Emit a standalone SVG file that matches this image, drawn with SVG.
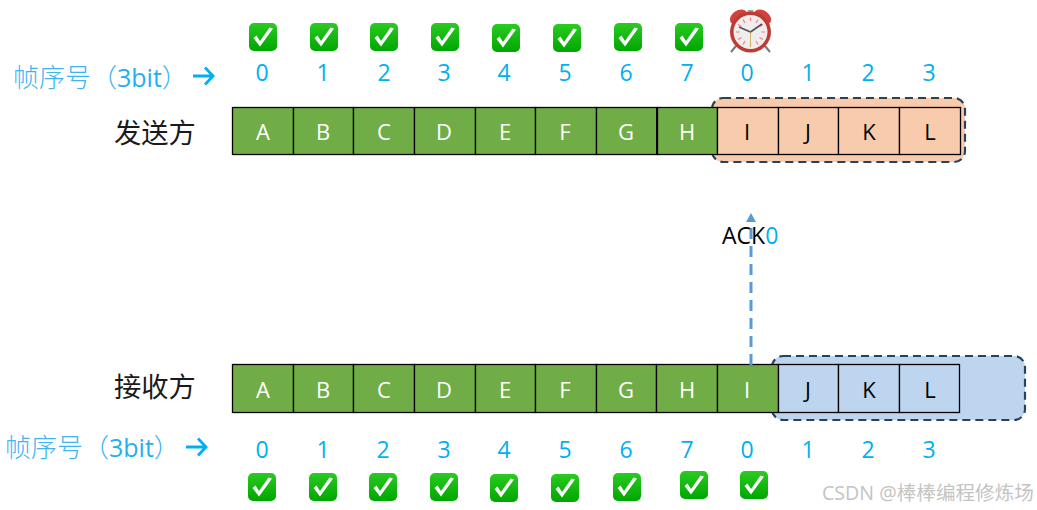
<svg xmlns="http://www.w3.org/2000/svg" width="1037" height="510" viewBox="0 0 1037 510">
<style>
text{font-family:"Open Sans","Noto Sans CJK SC",sans-serif}
.cell{stroke:#000;stroke-width:1.3}
.g{fill:#70AD47}
.o{fill:#F8CBAD}
.b{fill:#BDD5EE}
.w{fill:#fff;font-size:22px;text-anchor:middle}
.k{fill:#000;font-size:22px;text-anchor:middle}
.n{fill:#00B0F0;font-size:23px;text-anchor:middle}
.lab{fill:#1a1a1a;font-family:"Noto Sans CJK SC",sans-serif;font-size:27.300px}
.seq{fill:#3FB4F2;font-family:"Noto Sans CJK SC",sans-serif;font-size:26px;font-weight:300}
.bit{font-family:"Open Sans",sans-serif;font-size:25px;font-weight:400;fill:#22AEF2}
.win{stroke:#2A4258;stroke-width:2.200;stroke-dasharray:8 5}
</style>
<defs>
<linearGradient id="cg" x1="0" y1="0" x2="0" y2="1"><stop offset="0" stop-color="#2ACB22"/><stop offset="1" stop-color="#00A600"/></linearGradient>
<symbol id="chk" overflow="visible">
<rect x="0" y="0" width="28" height="28" rx="5" fill="url(#cg)"/>
<path d="M4.500 15L11 23.500L24 5.500L20.500 4.500L11 18L7.500 12.500Z" fill="#fff"/>
</symbol>
<g id="arr"><path d="M0 0H20M12 -8.500L20 0L12 8.500" fill="none" stroke="#00B0F0" stroke-width="2.800"/></g>
</defs>

<g id="window-send"><rect class="win o" x="712" y="98" width="253" height="64" rx="11"/></g>
<g id="window-recv"><rect class="win b" x="772" y="356" width="253" height="64" rx="11"/></g>

<g id="sender-row">
<rect class="cell g" x="232.500" y="107.500" width="61" height="47"/><text class="w" x="263" y="140">A</text>
<rect class="cell g" x="293.500" y="107.500" width="60" height="47"/><text class="w" x="323" y="140">B</text>
<rect class="cell g" x="353.500" y="107.500" width="61" height="47"/><text class="w" x="384" y="140">C</text>
<rect class="cell g" x="414.500" y="107.500" width="61" height="47"/><text class="w" x="444" y="140">D</text>
<rect class="cell g" x="475.500" y="107.500" width="60" height="47"/><text class="w" x="505" y="140">E</text>
<rect class="cell g" x="535.500" y="107.500" width="61" height="47"/><text class="w" x="565" y="140">F</text>
<rect class="cell g" x="596.500" y="107.500" width="61" height="47"/><text class="w" x="626" y="140">G</text>
<rect class="cell g" x="657.500" y="107.500" width="60" height="47" style="stroke-width:1.300"/><text class="w" x="687" y="140">H</text>
<path d="M657 107V155" stroke="#000" stroke-width="2" fill="none"/>
<rect class="cell o" x="717.500" y="107.500" width="61" height="47"/><text class="k" x="747" y="140">I</text>
<rect class="cell o" x="778.500" y="107.500" width="60" height="47"/><text class="k" x="808" y="140">J</text>
<rect class="cell o" x="838.500" y="107.500" width="61" height="47"/><text class="k" x="869" y="140">K</text>
<rect class="cell o" x="899.500" y="107.500" width="61" height="47"/><text class="k" x="930" y="140">L</text>
</g>

<g id="receiver-row">
<rect class="cell g" x="232.500" y="364.500" width="61" height="48"/><text class="w" x="263" y="398">A</text>
<rect class="cell g" x="293.500" y="364.500" width="60" height="48"/><text class="w" x="323" y="398">B</text>
<rect class="cell g" x="353.500" y="364.500" width="61" height="48"/><text class="w" x="384" y="398">C</text>
<rect class="cell g" x="414.500" y="364.500" width="61" height="48"/><text class="w" x="444" y="398">D</text>
<rect class="cell g" x="475.500" y="364.500" width="60" height="48"/><text class="w" x="505" y="398">E</text>
<rect class="cell g" x="535.500" y="364.500" width="61" height="48"/><text class="w" x="565" y="398">F</text>
<rect class="cell g" x="596.500" y="364.500" width="60" height="48"/><text class="w" x="626" y="398">G</text>
<rect class="cell g" x="656.500" y="364.500" width="61" height="48"/><text class="w" x="687" y="398">H</text>
<rect class="cell g" x="717.500" y="364.500" width="61" height="48"/><text class="w" x="747" y="398">I</text>
<rect class="cell b" x="778.500" y="364.500" width="60" height="48"/><text class="k" x="808" y="398">J</text>
<rect class="cell b" x="838.500" y="364.500" width="61" height="48"/><text class="k" x="869" y="398">K</text>
<rect class="cell b" x="899.500" y="364.500" width="60" height="48"/><text class="k" x="930" y="398">L</text>
</g>

<g id="connectors">
<path d="M751 365V222" fill="none" stroke="#5B9BD5" stroke-width="3" stroke-dasharray="11 7"/>
<path d="M751 213L756 222H746Z" fill="#5B9BD5"/>
</g>

<g id="labels">
<text class="lab" x="114" y="143">发送方</text>
<text class="lab" x="114" y="397">接收方</text>
<text class="seq" x="13" y="87">帧序号（<tspan class="bit">3bit</tspan>）</text>
<use href="#arr" x="193" y="76"/>
<text class="seq" x="5" y="457">帧序号（<tspan class="bit">3bit</tspan>）</text>
<use href="#arr" x="186" y="447"/>
<text x="722" y="244" font-size="23" fill="#000">ACK<tspan fill="#00B0F0">0</tspan></text>
<text x="822" y="500" font-size="19.600" fill="#C4C4C4" font-family="'Noto Sans','Noto Sans CJK SC',sans-serif">CSDN @棒棒编程修炼场</text>
</g>

<g id="seq-top">
<text class="n" x="262" y="81">0</text><text class="n" x="323" y="81">1</text><text class="n" x="384" y="81">2</text><text class="n" x="444" y="81">3</text><text class="n" x="504" y="81">4</text><text class="n" x="565" y="81">5</text><text class="n" x="626" y="81">6</text><text class="n" x="687" y="81">7</text><text class="n" x="747" y="81">0</text><text class="n" x="808" y="81">1</text><text class="n" x="868" y="81">2</text><text class="n" x="929" y="81">3</text>
</g>
<g id="seq-bottom">
<text class="n" x="262" y="458">0</text><text class="n" x="323" y="458">1</text><text class="n" x="383" y="458">2</text><text class="n" x="444" y="458">3</text><text class="n" x="504" y="458">4</text><text class="n" x="565" y="458">5</text><text class="n" x="626" y="458">6</text><text class="n" x="687" y="458">7</text><text class="n" x="747" y="458">0</text><text class="n" x="808" y="458">1</text><text class="n" x="868" y="458">2</text><text class="n" x="929" y="458">3</text>
</g>

<g id="checks-top">
<use href="#chk" x="249" y="23"/><use href="#chk" x="310" y="23"/><use href="#chk" x="370" y="23"/><use href="#chk" x="431" y="23"/><use href="#chk" x="492" y="24"/><use href="#chk" x="553" y="24"/><use href="#chk" x="614" y="23"/><use href="#chk" x="675" y="23"/>
</g>
<g id="checks-bottom">
<use href="#chk" x="248" y="473"/><use href="#chk" x="309" y="473"/><use href="#chk" x="369" y="473"/><use href="#chk" x="430" y="473"/><use href="#chk" x="490" y="474"/><use href="#chk" x="551" y="474"/><use href="#chk" x="613" y="473"/><use href="#chk" x="680" y="471"/><use href="#chk" x="740" y="471"/>
</g>

<g id="clock">
<path d="M736 46L731 52M765 46L770 52" stroke="#777" stroke-width="2" fill="none"/>
<ellipse cx="738.500" cy="17" rx="9.500" ry="6.500" fill="#D0433D" transform="rotate(-35 738.500 17)"/>
<ellipse cx="762.500" cy="17" rx="9.500" ry="6.500" fill="#D0433D" transform="rotate(35 762.500 17)"/>
<path d="M750.500 14V11M747.500 11H753.500" stroke="#888" stroke-width="1.500"/>
<circle cx="750.500" cy="32" r="20.500" fill="#BE3A34"/>
<circle cx="750.500" cy="32" r="17" fill="#EFEDED"/>
<path d="M750.500 17.500V21M750.500 43V47M736 32H739.500M761.500 32H765M743 19.500L745 23M758 19.500L756 23M738 24.500L741.500 26.500M763 24.500L759.500 26.500M738 39.500L741.500 37.500M763 39.500L759.500 37.500M743 44.500L745 41M758 44.500L756 41" stroke="#F0847E" stroke-width="1.200"/>
<path d="M750.500 32V47" stroke="#D9B36C" stroke-width="1"/>
<path d="M750.500 32L739 27" stroke="#555" stroke-width="1.600"/>
<path d="M750.500 32L762 24" stroke="#555" stroke-width="1.600"/>
</g>
</svg>
